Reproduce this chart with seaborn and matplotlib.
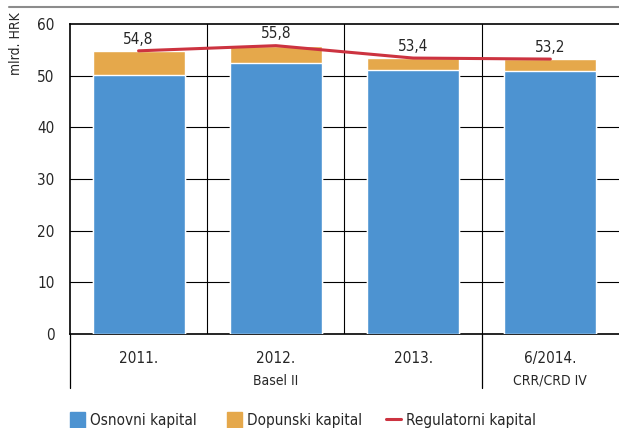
import matplotlib
matplotlib.use("Agg")
import matplotlib.pyplot as plt
from matplotlib.lines import Line2D
from matplotlib.patches import Patch
import seaborn as sb
import numpy as np
import pandas as pd

# Podaci (mlrd. HRK)
godine = ["2011.", "2012.", "2013.", "6/2014."]
osnovni = [50.1, 52.5, 51.0, 50.8]
dopunski = [4.7, 3.3, 2.4, 2.4]
regulatorni = [54.8, 55.8, 53.4, 53.2]
oznake = ["54,8", "55,8", "53,4", "53,2"]
grupe = ["Basel II", "CRR/CRD IV"]
serije = ["Osnovni kapital", "Dopunski kapital", "Regulatorni kapital"]

plava = "#4D93D1"
narancasta = "#E5A84B"
crvena = "#CC3340"

sb.set_style("white")
plt.rcParams["font.family"] = ["DejaVu Sans"]
plt.rcParams["font.stretch"] = "condensed"

df = pd.DataFrame({"godina": godine,
                   "osnovni": osnovni,
                   "ukupno": np.array(osnovni) + np.array(dopunski)})

fig = plt.figure(figsize=(6.19, 4.28), dpi=100)
ax = fig.add_axes([0.113, 0.22, 0.887, 0.724])

# stupci: prvo ukupno (narančasto), pa osnovni preko njega
sb.barplot(data=df, x="godina", y="ukupno", color=narancasta, width=0.67,
           saturation=1, ax=ax, zorder=3)
sb.barplot(data=df, x="godina", y="osnovni", color=plava, width=0.67,
           saturation=1, ax=ax, zorder=3)
sb.lineplot(x=np.arange(len(godine)), y=regulatorni, color=crvena, lw=2.2,
            ax=ax, zorder=4)
for i, (v, t) in enumerate(zip(regulatorni, oznake)):
    ax.annotate(t, (i, v), xytext=(0, 3), textcoords="offset points",
                ha="center", va="bottom", fontsize=11)

ax.set_ylim(0, 60)
ax.set_xlim(-0.5, 3.5)
ax.set_yticks(range(0, 61, 10))
for y in range(10, 60, 10):
    ax.axhline(y, color="black", lw=0.8, zorder=1)
for x in [0.5, 1.5, 2.5]:
    ax.axvline(x, color="black", lw=0.8, zorder=1)
for s in ["top", "left", "bottom"]:
    ax.spines[s].set_color("black")
    ax.spines[s].set_linewidth(1.2)
ax.spines["right"].set_visible(False)
ax.tick_params(axis="both", length=0, labelsize=11)
ax.tick_params(axis="x", pad=12)
ax.tick_params(axis="y", pad=11)
ax.set_xlabel("")
ax.set_ylabel("mlrd. HRK", fontsize=10)
ax.yaxis.set_label_coords(-0.085, 0.935)

# donji red oznaka i razdjelnici
trans = ax.get_xaxis_transform()
ax.text(1.0, -0.152, grupe[0], transform=trans, ha="center", va="center", fontsize=10)
ax.text(3.0, -0.152, grupe[1], transform=trans, ha="center", va="center", fontsize=10)
for x in [-0.5, 2.5]:
    ax.add_line(Line2D([x, x], [0, -0.174], transform=trans, color="black",
                       lw=0.9, clip_on=False))

# siva linija na vrhu
fig.add_artist(Line2D([0.015, 1.0], [0.983, 0.983], color="#8c8c8c", lw=1.5))

# legenda: tri zasebna unosa na zadanim pozicijama
handles = [Patch(color=plava), Patch(color=narancasta),
           Line2D([], [], color=crvena, lw=2.2)]
for h, lab, x0 in zip(handles, serije, [70, 227, 386]):
    leg = fig.legend([h], [lab], loc="center left",
                     bbox_to_anchor=(x0 / 619, 0.018), frameon=False,
                     fontsize=11, handlelength=0.95, handleheight=1.15,
                     handletextpad=0.35, borderpad=0, borderaxespad=0)

fig.savefig("out.png", dpi=100)
